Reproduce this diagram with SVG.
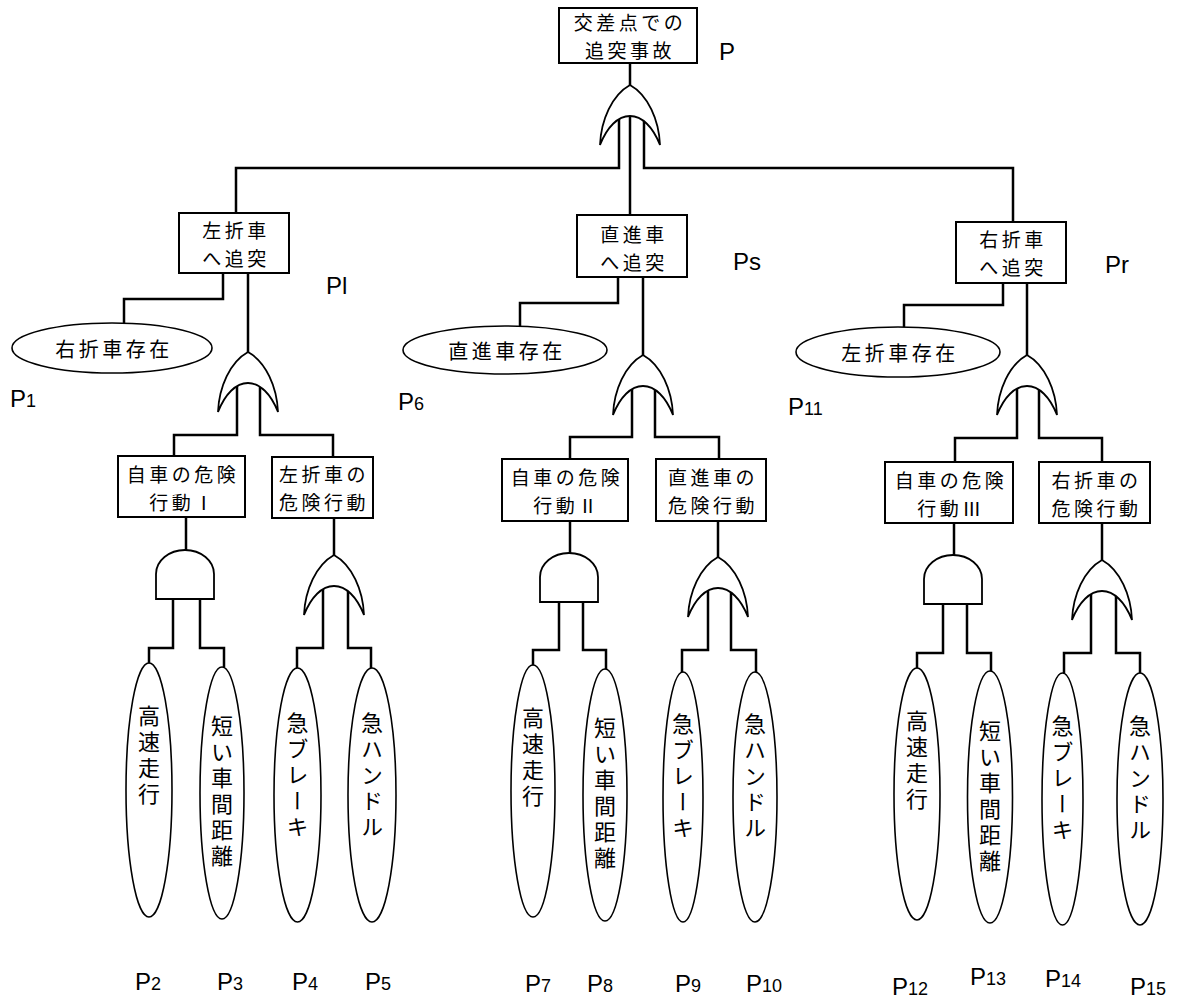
<svg xmlns="http://www.w3.org/2000/svg" xmlns:xlink="http://www.w3.org/1999/xlink" width="1179" height="999" viewBox="0 0 1179 999">
<style>
.ln{fill:none;stroke:#000;stroke-width:2.5}
.box{fill:#fff;stroke:#000;stroke-width:2}
.ev{fill:#fff;stroke:#000;stroke-width:1.6}
.gate{fill:#fff;stroke:#000;stroke-width:1.8}
.jp{font-family:"Noto Sans CJK JP","Noto Sans CJK SC",sans-serif;font-size:19px;letter-spacing:3.5px;text-anchor:middle;fill:#000}
.je{font-family:"Noto Sans CJK JP","Noto Sans CJK SC",sans-serif;font-size:20px;letter-spacing:3.5px;text-anchor:middle;fill:#000}
.vt{font-family:"Noto Sans CJK JP","Noto Sans CJK SC",sans-serif;font-size:22px;writing-mode:vertical-rl;letter-spacing:4px;fill:#000}
.lb{font-family:"Liberation Sans",Arial,sans-serif;font-size:24px;fill:#000}
.sub{font-size:18px}
</style>
<defs>
<path id="or" d="M0,0 C-18,10 -29,35 -30,60 C-23,42 -12,31 0,31 C12,31 23,42 30,60 C29,35 18,10 0,0 Z"/>
<path id="and" d="M-29,49 L-29,24 A29,24 0 0 1 29,24 L29,49 Z"/>
</defs>
<rect width="1179" height="999" fill="#fff"/>

<g id="connectors">
<path class="ln" d="M630,63 V85"/>
<path class="ln" d="M619,116 V168 H236 V213"/>
<path class="ln" d="M630,116 V215"/>
<path class="ln" d="M644,116 V168 H1013 V222"/>
<path class="ln" d="M223,273 V299 H124 V323"/>
<path class="ln" d="M248,273 V352"/>
<path class="ln" d="M237,383 V435 H174 V456"/>
<path class="ln" d="M260,383 V435 H333 V457"/>
<path class="ln" d="M186,517 V550"/>
<path class="ln" d="M173,599 V648 H149 V663"/>
<path class="ln" d="M200,599 V648 H224 V667"/>
<path class="ln" d="M334,518 V555"/>
<path class="ln" d="M323,586 V648 H297 V668"/>
<path class="ln" d="M348,586 V648 H371 V668"/>
<path class="ln" d="M618,277 V303 H520 V326"/>
<path class="ln" d="M643,277 V355"/>
<path class="ln" d="M632,386 V437 H570 V459"/>
<path class="ln" d="M655,386 V437 H719 V459"/>
<path class="ln" d="M570,521 V553"/>
<path class="ln" d="M559,602 V650 H533 V665"/>
<path class="ln" d="M583,602 V650 H606 V669"/>
<path class="ln" d="M718,521 V557"/>
<path class="ln" d="M708,588 V650 H682 V672"/>
<path class="ln" d="M731,588 V650 H756 V672"/>
<path class="ln" d="M1003,283 V305 H904 V328"/>
<path class="ln" d="M1027,283 V355"/>
<path class="ln" d="M1017,386 V438 H955 V462"/>
<path class="ln" d="M1039,386 V438 H1102 V462"/>
<path class="ln" d="M954,523 V555"/>
<path class="ln" d="M943,604 V653 H917 V668"/>
<path class="ln" d="M967,604 V653 H991 V672"/>
<path class="ln" d="M1102,523 V560"/>
<path class="ln" d="M1091,591 V653 H1064 V673"/>
<path class="ln" d="M1116,591 V653 H1140 V673"/>
</g>

<g id="gates">
<use xlink:href="#or" href="#or" class="gate" x="630" y="85"/>
<use xlink:href="#or" href="#or" class="gate" x="248" y="352"/>
<use xlink:href="#or" href="#or" class="gate" x="334" y="555"/>
<use xlink:href="#and" href="#and" class="gate" x="185" y="550"/>
<use xlink:href="#or" href="#or" class="gate" x="643" y="355"/>
<use xlink:href="#or" href="#or" class="gate" x="718" y="557"/>
<use xlink:href="#and" href="#and" class="gate" x="569" y="553"/>
<use xlink:href="#or" href="#or" class="gate" x="1027" y="355"/>
<use xlink:href="#or" href="#or" class="gate" x="1102" y="560"/>
<use xlink:href="#and" href="#and" class="gate" x="953" y="555"/>
</g>

<g id="top">
<rect class="box" x="559" y="8" width="138" height="55"/>
<text class="jp"><tspan x="630" y="30">交差点での</tspan><tspan x="630" y="58">追突事故</tspan></text>
<text class="lb" x="719" y="60">P</text>
</g>

<g id="left-collision">
<rect class="box" x="179" y="213" width="110" height="60"/>
<text class="jp"><tspan x="236" y="238">左折車</tspan><tspan x="236" y="266">へ追突</tspan></text>
<text class="lb" x="326" y="294">Pl</text>
</g>
<g id="right-turn-exists">
<ellipse class="ev" cx="112" cy="348" rx="100" ry="25"/>
<text class="je" x="114" y="357">右折車存在</text>
<text class="lb" x="10" y="407">P<tspan class="sub">1</tspan></text>
</g>
<g id="own-danger-1">
<rect class="box" x="118" y="456" width="127" height="61"/>
<text class="jp"><tspan x="183" y="482">自車の危険</tspan><tspan x="183" y="510">行動Ⅰ</tspan></text>
</g>
<g id="left-danger">
<rect class="box" x="272" y="457" width="101" height="61"/>
<text class="jp"><tspan x="324" y="482">左折車の</tspan><tspan x="324" y="510">危険行動</tspan></text>
</g>
<g id="p2"><ellipse class="ev" cx="149" cy="790" rx="23" ry="127"/><text class="vt" x="149" y="705">高速走行</text><text class="lb" x="135" y="990">P<tspan class="sub">2</tspan></text></g>
<g id="p3"><ellipse class="ev" cx="222" cy="793" rx="22" ry="126"/><text class="vt" x="222" y="715">短い車間距離</text><text class="lb" x="217" y="990">P<tspan class="sub">3</tspan></text></g>
<g id="p4"><ellipse class="ev" cx="297.5" cy="795" rx="23.5" ry="127"/><text class="vt" x="297.5" y="712">急ブレーキ</text><text class="lb" x="292" y="990">P<tspan class="sub">4</tspan></text></g>
<g id="p5"><ellipse class="ev" cx="372" cy="795" rx="24" ry="127"/><text class="vt" x="372" y="712">急ハンドル</text><text class="lb" x="365" y="990">P<tspan class="sub">5</tspan></text></g>

<g id="straight-collision">
<rect class="box" x="577" y="215" width="110" height="62"/>
<text class="jp"><tspan x="634" y="242">直進車</tspan><tspan x="634" y="270">へ追突</tspan></text>
<text class="lb" x="733" y="270">Ps</text>
</g>
<g id="straight-exists">
<ellipse class="ev" cx="505" cy="350" rx="102" ry="24"/>
<text class="je" x="507" y="359">直進車存在</text>
<text class="lb" x="398" y="410">P<tspan class="sub">6</tspan></text>
</g>
<g id="own-danger-2">
<rect class="box" x="502" y="459" width="126" height="62"/>
<text class="jp"><tspan x="567" y="485">自車の危険</tspan><tspan x="567" y="513">行動Ⅱ</tspan></text>
</g>
<g id="straight-danger">
<rect class="box" x="656" y="459" width="110" height="62"/>
<text class="jp"><tspan x="713" y="485">直進車の</tspan><tspan x="713" y="513">危険行動</tspan></text>
</g>
<g id="p7"><ellipse class="ev" cx="533" cy="791" rx="22" ry="126"/><text class="vt" x="533" y="707">高速走行</text><text class="lb" x="525" y="992">P<tspan class="sub">7</tspan></text></g>
<g id="p8"><ellipse class="ev" cx="605" cy="795" rx="22" ry="126"/><text class="vt" x="605" y="717">短い車間距離</text><text class="lb" x="587" y="992">P<tspan class="sub">8</tspan></text></g>
<g id="p9"><ellipse class="ev" cx="683" cy="797" rx="20" ry="125"/><text class="vt" x="683" y="713">急ブレーキ</text><text class="lb" x="675" y="992">P<tspan class="sub">9</tspan></text></g>
<g id="p10"><ellipse class="ev" cx="755" cy="797" rx="22" ry="125"/><text class="vt" x="755" y="713">急ハンドル</text><text class="lb" x="746" y="992">P<tspan class="sub">10</tspan></text></g>

<g id="right-collision">
<rect class="box" x="956" y="222" width="110" height="61"/>
<text class="jp"><tspan x="1013" y="247">右折車</tspan><tspan x="1013" y="275">へ追突</tspan></text>
<text class="lb" x="1105" y="273">Pr</text>
</g>
<g id="left-turn-exists">
<ellipse class="ev" cx="898" cy="352" rx="102" ry="25"/>
<text class="je" x="900" y="361">左折車存在</text>
<text class="lb" x="788" y="415">P<tspan class="sub">11</tspan></text>
</g>
<g id="own-danger-3">
<rect class="box" x="885" y="462" width="128" height="61"/>
<text class="jp"><tspan x="951" y="488">自車の危険</tspan><tspan x="951" y="516">行動Ⅲ</tspan></text>
</g>
<g id="right-danger">
<rect class="box" x="1039" y="462" width="111" height="61"/>
<text class="jp"><tspan x="1096.5" y="488">右折車の</tspan><tspan x="1096.5" y="516">危険行動</tspan></text>
</g>
<g id="p12"><ellipse class="ev" cx="917" cy="794" rx="23" ry="126"/><text class="vt" x="917" y="710">高速走行</text><text class="lb" x="892" y="995">P<tspan class="sub">12</tspan></text></g>
<g id="p13"><ellipse class="ev" cx="990" cy="797" rx="22.5" ry="126"/><text class="vt" x="990" y="720">短い車間距離</text><text class="lb" x="970" y="985">P<tspan class="sub">13</tspan></text></g>
<g id="p14"><ellipse class="ev" cx="1062.5" cy="799" rx="20.5" ry="126"/><text class="vt" x="1062.5" y="715">急ブレーキ</text><text class="lb" x="1045" y="987">P<tspan class="sub">14</tspan></text></g>
<g id="p15"><ellipse class="ev" cx="1140" cy="799" rx="23" ry="126"/><text class="vt" x="1140" y="715">急ハンドル</text><text class="lb" x="1130" y="995">P<tspan class="sub">15</tspan></text></g>
</svg>
